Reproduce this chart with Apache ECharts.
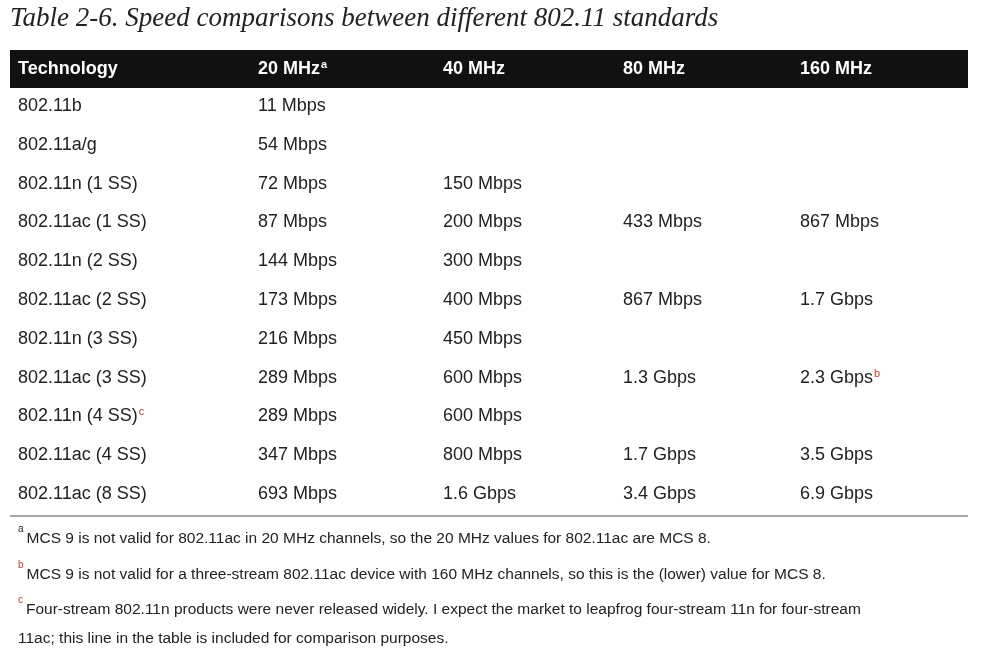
<!DOCTYPE html>
<html><head><meta charset="utf-8">
<script src="https://cdn.jsdelivr.net/npm/echarts@6/dist/echarts.min.js"></script>
<style>html,body{margin:0;background:#fff}#main{width:985px;height:654px}</style>
</head><body><div id="main"></div>
<script>
var chart = echarts.init(document.getElementById('main'));
var title = 'Table 2-6. Speed comparisons between different 802.11 standards';
var headers = ['Technology', '20 MHz', '40 MHz', '80 MHz', '160 MHz'];
var headerNotes = ['', 'a', '', '', ''];
var technology = ['802.11b', '802.11a/g', '802.11n (1 SS)', '802.11ac (1 SS)', '802.11n (2 SS)', '802.11ac (2 SS)', '802.11n (3 SS)', '802.11ac (3 SS)', '802.11n (4 SS)', '802.11ac (4 SS)', '802.11ac (8 SS)'];
var mhz20 = ['11 Mbps', '54 Mbps', '72 Mbps', '87 Mbps', '144 Mbps', '173 Mbps', '216 Mbps', '289 Mbps', '289 Mbps', '347 Mbps', '693 Mbps'];
var mhz40 = ['', '', '150 Mbps', '200 Mbps', '300 Mbps', '400 Mbps', '450 Mbps', '600 Mbps', '600 Mbps', '800 Mbps', '1.6 Gbps'];
var mhz80 = ['', '', '', '433 Mbps', '', '867 Mbps', '', '1.3 Gbps', '', '1.7 Gbps', '3.4 Gbps'];
var mhz160 = ['', '', '', '867 Mbps', '', '1.7 Gbps', '', '2.3 Gbps', '', '3.5 Gbps', '6.9 Gbps'];
var cellNotes = {'8-0': 'c', '7-4': 'b'};
var footnotes = [
  ['a', 'MCS 9 is not valid for 802.11ac in 20 MHz channels, so the 20 MHz values for 802.11ac are MCS 8.'],
  ['b', 'MCS 9 is not valid for a three-stream 802.11ac device with 160 MHz channels, so this is the (lower) value for MCS 8.'],
  ['c', 'Four-stream 802.11n products were never released widely. I expect the market to leapfrog four-stream 11n for four-stream\n11ac; this line in the table is included for comparison purposes.']
];

var font = "'Liberation Sans', Arial, sans-serif";
var colX = [18, 258, 443, 623, 800];
var rowY0 = 106, rowH = 38.8;
var cols = [technology, mhz20, mhz40, mhz80, mhz160];
var els = [];

els.push({type: 'text', x: 10, y: 19, style: {text: title, font: 'italic 27px "Liberation Serif", serif', fill: '#222', verticalAlign: 'middle'}});
els.push({type: 'rect', shape: {x: 10, y: 50, width: 958, height: 38}, style: {fill: '#111'}});
headers.forEach(function (h, c) {
  els.push({type: 'text', x: colX[c], y: 69, style: {
    text: h + (headerNotes[c] ? '{s|' + headerNotes[c] + '}' : ''),
    font: 'bold 18px ' + font, fill: '#fff', verticalAlign: 'middle',
    rich: {s: {fontSize: 11, fontWeight: 'bold', fill: '#fff', verticalAlign: 'top', padding: [0, 0, 8, 1]}}
  }});
});
for (var r = 0; r < technology.length; r++) {
  for (var c = 0; c < cols.length; c++) {
    var t = cols[c][r];
    if (!t) continue;
    var note = cellNotes[r + '-' + c];
    els.push({type: 'text', x: colX[c], y: rowY0 + r * rowH, style: {
      text: t + (note ? '{s|' + note + '}' : ''),
      font: '18px ' + font, fill: '#222', verticalAlign: 'middle',
      rich: {s: {fontSize: 11, fill: '#c0392b', verticalAlign: 'top', padding: [0, 0, 8, 1]}}
    }});
  }
}
els.push({type: 'line', shape: {x1: 10, y1: 516, x2: 968, y2: 516}, style: {stroke: '#888', lineWidth: 1.5}});
var fy = [524, 560, 595];
footnotes.forEach(function (f, i) {
  els.push({type: 'text', x: 18, y: fy[i], style: {
    text: '{s|' + f[0] + '}' + f[1], font: '15.5px ' + font, fill: '#222',
    verticalAlign: 'top', lineHeight: 29,
    rich: {s: {fontSize: 10, fill: i === 0 ? '#222' : '#c0392b', verticalAlign: 'top', padding: [0, 3, 8, 0]}}
  }});
});

chart.setOption({animation: false, graphic: {elements: els}});
</script></body></html>
